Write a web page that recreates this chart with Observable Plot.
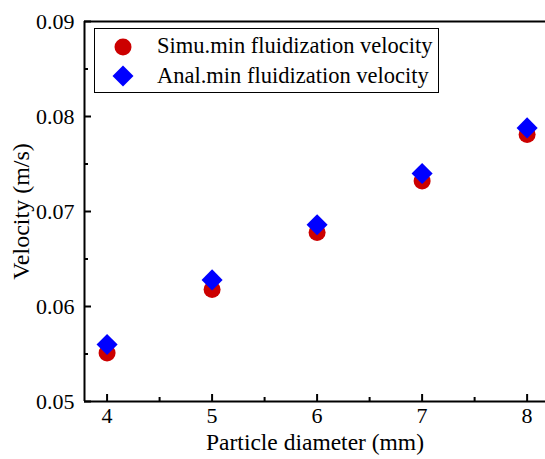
<!DOCTYPE html>
<html>
<head>
<meta charset="utf-8">
<script src="https://cdn.jsdelivr.net/npm/d3@7"></script>
<script src="https://cdn.jsdelivr.net/npm/@observablehq/plot@0.6"></script>
<style>
  html, body { margin: 0; padding: 0; background: #fff; }
  #wrap { position: relative; width: 545px; height: 459px; overflow: hidden; }
  #legend { position: absolute; left: 94px; top: 28px; }
</style>
</head>
<body>
<div id="wrap"></div>
<script>
const diameters = [4, 5, 6, 7, 8];
const simuVelocity = [0.0551, 0.0618, 0.0678, 0.0732, 0.0781];
const analVelocity = [0.0560, 0.0628, 0.0686, 0.0740, 0.0788];
const seriesNames = ["Simu.min fluidization velocity", "Anal.min fluidization velocity"];
const seriesColors = ["#cc0000", "#0000ff"];
const xTicks = [4, 5, 6, 7, 8];
const xMinorTicks = [4.5, 5.5, 6.5, 7.5];
const yTicks = [0.05, 0.06, 0.07, 0.08, 0.09];
const yMinorTicks = [0.055, 0.065, 0.075, 0.085];
const xDomain = [3.785, 8.175];
const yDomain = [0.05, 0.09];

const FONT = "'Liberation Serif', 'Times New Roman', serif";
const simu = diameters.map((d, i) => ({d, v: simuVelocity[i]}));
const anal = diameters.map((d, i) => ({d, v: analVelocity[i]}));

const chart = Plot.plot({
  width: 545,
  height: 459,
  marginLeft: 84,
  marginRight: 0,
  marginTop: 21,
  marginBottom: 58,
  style: {fontFamily: FONT, fontSize: "22px", color: "#000", background: "#fff"},
  x: {domain: xDomain},
  y: {domain: yDomain},
  marks: [
    Plot.axisX({ticks: xTicks, tickSize: -7, tickPadding: 13, tickFormat: d => String(d), strokeWidth: 2, fontSize: 22,
                label: null}),
    Plot.axisX({ticks: [], label: "Particle diameter (mm)", labelAnchor: "center", labelOffset: 48, labelArrow: "none", fontSize: 23.5}),
    Plot.axisX({ticks: xMinorTicks, tickSize: -4, text: null, label: null, strokeWidth: 2}),
    Plot.axisY({ticks: yTicks, tickSize: -7, tickPadding: 17, tickFormat: d => d.toFixed(2), strokeWidth: 2, fontSize: 22,
                label: null}),
    Plot.axisY({ticks: [], label: "Velocity (m/s)", labelAnchor: "center", labelOffset: 73, labelArrow: "none", fontSize: 24}),
    Plot.axisY({ticks: yMinorTicks, tickSize: -4, text: null, label: null, strokeWidth: 2}),
    Plot.ruleY([yDomain[0]], {strokeWidth: 2}),
    Plot.ruleY([yDomain[1]], {strokeWidth: 2}),
    Plot.ruleX([xDomain[0]], {strokeWidth: 2}),
    Plot.dot(simu, {x: "d", y: "v", r: 8.5, fill: seriesColors[0], stroke: "none", symbol: "circle"}),
    Plot.dot(anal, {x: "d", y: "v", r: 9.5, fill: seriesColors[1], stroke: "none", symbol: "diamond2"})
  ]
});
const wrap = document.getElementById("wrap");
wrap.appendChild(chart);

// Legend (boxed, inside the plot area, top-left)
const ns = "http://www.w3.org/2000/svg";
const lg = document.createElementNS(ns, "svg");
lg.setAttribute("id", "legend");
lg.setAttribute("width", 346);
lg.setAttribute("height", 66);
lg.innerHTML =
  `<rect x="0.5" y="0.5" width="344" height="64" fill="#fff" stroke="#000" stroke-width="1"/>` +
  `<circle cx="29" cy="19" r="8.5" fill="${seriesColors[0]}"/>` +
  `<path d="M29,37.5L39.5,48L29,58.5L18.5,48Z" fill="${seriesColors[1]}"/>` +
  seriesNames.map((name, i) =>
    `<text x="63" y="${i === 0 ? 25 : 55}" font-family="${FONT.replace(/'/g, "")}" font-size="22.5" fill="#000">${name}</text>`
  ).join("");
wrap.appendChild(lg);
</script>
</body>
</html>
